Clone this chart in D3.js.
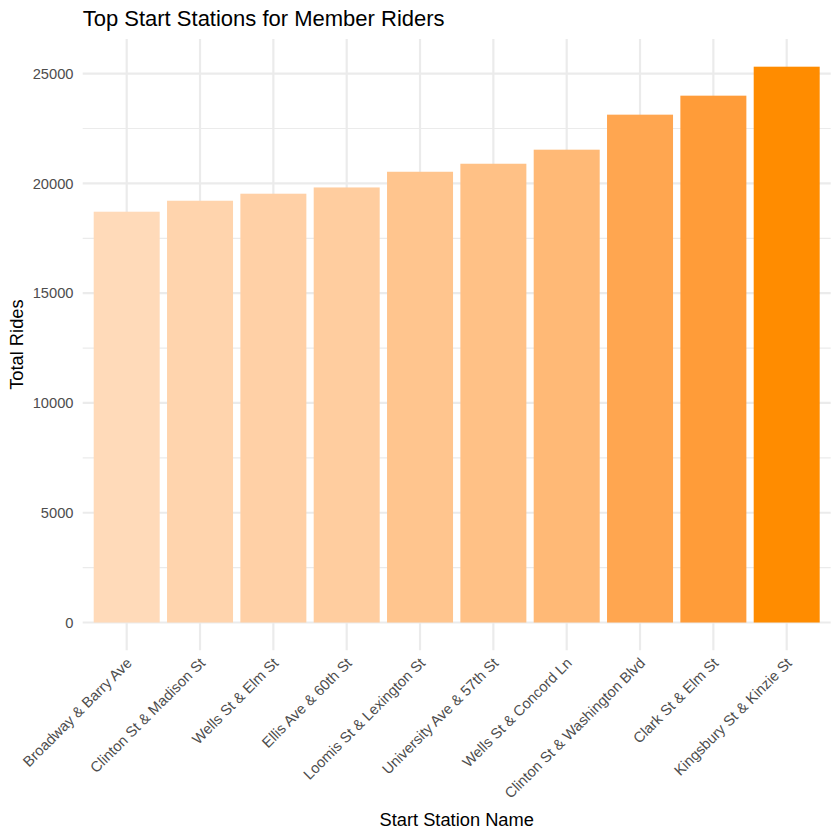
<!DOCTYPE html>
<html>
<head>
<meta charset="utf-8">
<script src="https://d3js.org/d3.v7.min.js"></script>
<style>
  body { margin: 0; background: #fff; }
  svg { font-family: "Liberation Sans", Arial, sans-serif; }
</style>
</head>
<body>
<svg width="840" height="840"></svg>
<script>
// data
var stations = ["Broadway & Barry Ave", "Clinton St & Madison St", "Wells St & Elm St",
                "Ellis Ave & 60th St", "Loomis St & Lexington St", "University Ave & 57th St",
                "Wells St & Concord Ln", "Clinton St & Washington Blvd", "Clark St & Elm St",
                "Kingsbury St & Kinzie St"];
var rides = [18710, 19210, 19530, 19815, 20530, 20895, 21535, 23130, 23995, 25315];
var yTicks = [0, 5000, 10000, 15000, 20000, 25000];
var yMinor = [2500, 7500, 12500, 17500, 22500];

var svg = d3.select("svg");
var pLeft = 82.7, pRight = 830.7, pTop = 38.9, pBottom = 650.3;

var data = stations.map(function(s, i) { return {name: s, value: rides[i]}; });

// discrete axis with ggplot's 0.6 expansion on each side
var step = (pRight - pLeft) / (stations.length + 0.2);
var x = d3.scalePoint()
    .domain(stations)
    .range([pLeft + 0.6 * step, pRight - 0.6 * step]);

var ymax = d3.max(rides);
var y = d3.scaleLinear()
    .domain([-0.05 * ymax, ymax * 1.05])
    .range([pBottom, pTop]);

var fill = d3.scaleLinear()
    .domain(d3.extent(rides))
    .range(["#FFDAB9", "#FF8C00"])
    .interpolate(d3.interpolateLab);

// grid
var grid = svg.append("g");
grid.selectAll(".minor").data(yMinor).enter().append("line")
    .attr("x1", pLeft).attr("x2", pRight)
    .attr("y1", function(d) { return y(d); })
    .attr("y2", function(d) { return y(d); })
    .attr("stroke", "#EBEBEB").attr("stroke-width", 1.2);
grid.selectAll(".major").data(yTicks).enter().append("line")
    .attr("x1", pLeft).attr("x2", pRight)
    .attr("y1", function(d) { return y(d); })
    .attr("y2", function(d) { return y(d); })
    .attr("stroke", "#EBEBEB").attr("stroke-width", 2.2);
grid.selectAll(".vx").data(stations).enter().append("line")
    .attr("x1", function(d) { return x(d); })
    .attr("x2", function(d) { return x(d); })
    .attr("y1", pTop).attr("y2", pBottom)
    .attr("stroke", "#EBEBEB").attr("stroke-width", 2.2);

// bars
var bw = step * 0.9;
svg.selectAll(".bar").data(data).enter().append("rect")
    .attr("x", function(d) { return x(d.name) - bw / 2; })
    .attr("width", bw)
    .attr("y", function(d) { return y(d.value); })
    .attr("height", function(d) { return y(0) - y(d.value); })
    .attr("fill", function(d) { return fill(d.value); });

// y axis labels
svg.selectAll(".ylab").data(yTicks).enter().append("text")
    .attr("x", 73.5)
    .attr("y", function(d) { return y(d); })
    .attr("dy", "0.35em")
    .attr("text-anchor", "end")
    .attr("fill", "#4D4D4D")
    .style("font-size", "14.7px")
    .text(function(d) { return d; });

// x axis labels, rotated 45
svg.selectAll(".xlab").data(stations).enter().append("text")
    .attr("transform", function(d) { return "translate(" + (x(d) + 6) + ",664) rotate(-45)"; })
    .attr("text-anchor", "end")
    .attr("fill", "#4D4D4D")
    .style("font-size", "14.7px")
    .text(function(d) { return d; });

// titles
svg.append("text")
    .attr("x", pLeft).attr("y", 26)
    .style("font-size", "22px")
    .attr("fill", "#000")
    .text("Top Start Stations for Member Riders");

svg.append("text")
    .attr("x", (pLeft + pRight) / 2).attr("y", 826)
    .attr("text-anchor", "middle")
    .style("font-size", "18.3px")
    .text("Start Station Name");

svg.append("text")
    .attr("transform", "translate(23," + (pTop + pBottom) / 2 + ") rotate(-90)")
    .attr("text-anchor", "middle")
    .style("font-size", "18.3px")
    .text("Total Rides");
</script>
</body>
</html>
